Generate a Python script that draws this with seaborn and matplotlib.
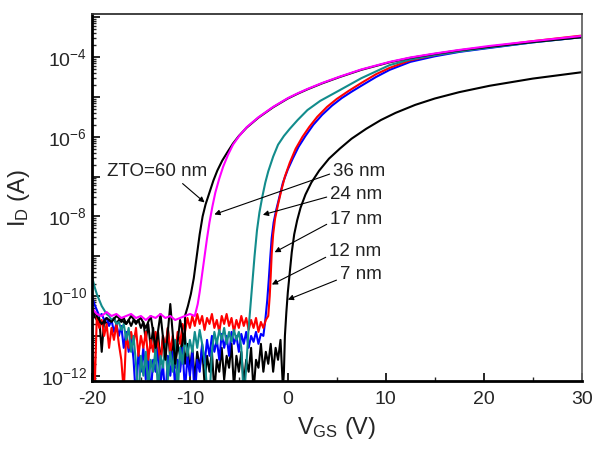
import numpy as np
import pandas as pd
import matplotlib
matplotlib.use('Agg')
import matplotlib.pyplot as plt
from matplotlib.ticker import LogLocator, FuncFormatter, NullFormatter, MultipleLocator
import seaborn as sns

# each device: off-state floor sampled on a regular grid from -20 V, then the turn-on curve
# currents are log10(I_D / A)

# 60 nm (black), floor every 0.5 V
floor_60 = [-10.3, -10.5, -10.7, -10.55, -10.65, -10.5, -10.6, -10.7, -10.5, -10.65,
            -10.55, -10.8, -10.5, -11.3, -10.45, -11.6, -10.2, -11.7, -10.6, -11.2]
on_v_60 = [-10.5, -10.2, -9.9, -9.6, -9.3, -9.0, -8.7, -8.4, -8.0, -7.6, -7.2, -6.7, -6.2,
           -5.6, -5.0, -4.2, -3.0, -1.5, 0.0, 1.0, 2.0, 3.5, 5.3, 7.5, 10.4, 12.5, 15.0,
           17.5, 20.6, 25.0, 30.0]
on_i_60 = [-10.5, -10.25, -9.95, -9.55, -9.0, -8.45, -8.0, -7.7, -7.4, -7.1, -6.85, -6.6,
           -6.4, -6.17, -5.98, -5.77, -5.52, -5.26, -5.04, -4.92, -4.81, -4.66, -4.5, -4.32,
           -4.13, -4.02, -3.92, -3.83, -3.74, -3.62, -3.5]

# 36 nm (magenta), floor every 0.5 V
floor_36 = [-10.3, -10.45, -10.5, -10.4, -10.5, -10.45, -10.55, -10.5, -10.45, -10.55, -10.5,
            -10.6, -10.5, -10.55, -10.45, -10.55, -10.5, -10.6, -10.55, -10.5, -10.45]
on_v_36 = [-9.5, -9.2, -9.0, -8.75, -8.5, -8.25, -8.0, -7.7, -7.4, -7.0, -6.6, -6.1, -5.6,
           -5.0, -4.2, -3.0, -1.5, 0.0, 1.0, 2.0, 3.5, 5.3, 7.5, 10.4, 12.5, 15.0, 17.5,
           20.6, 25.0, 30.0]
on_i_36 = [-10.5, -10.2, -9.9, -9.45, -9.0, -8.55, -8.15, -7.75, -7.4, -7.05, -6.75, -6.45,
           -6.2, -5.99, -5.76, -5.51, -5.25, -5.03, -4.91, -4.8, -4.65, -4.49, -4.31, -4.12,
           -4.01, -3.91, -3.82, -3.72, -3.6, -3.47]

# 24 nm (teal), floor every 0.25 V
floor_24 = [-9.5, -9.75, -9.95, -10.1, -10.25, -10.35, -10.45, -10.5, -10.6, -10.55, -10.7,
            -10.65, -10.85, -10.7, -11.1, -10.8, -11.4, -11.0, -11.7, -12.6, -11.5, -12.0,
            -11.4, -12.3, -11.6, -11.9, -11.3, -12.4, -11.5, -11.8, -11.2, -12.1, -11.4,
            -11.9, -11.1, -12.5, -11.3, -11.7, -11.0, -11.5, -11.1, -11.4, -10.9, -11.3,
            -10.85, -11.2, -11.6, -12.3, -12.6, -11.4, -10.9, -11.2, -10.85, -11.1, -10.8,
            -11.2, -10.9, -11.15, -10.85, -11.1, -10.9, -11.3, -12.6, -11.8]
on_v_24 = [-4.0, -3.8, -3.6, -3.4, -3.15, -2.9, -2.6, -2.3, -2.0, -1.5, -1.0, -0.4, 0.2, 1.0,
           2.0, 3.3, 5.3, 7.5, 10.4, 12.5, 15.0, 17.5, 20.6, 25.0, 30.0]
on_i_24 = [-10.8, -10.2, -9.6, -9.0, -8.35, -7.9, -7.5, -7.15, -6.87, -6.5, -6.2, -5.98,
           -5.8, -5.58, -5.33, -5.1, -4.83, -4.53, -4.2, -4.06, -3.95, -3.86, -3.76, -3.63,
           -3.5]

# 17 nm (red), floor every 0.25 V
floor_17 = [-10.4, -12.6, -10.5, -10.8, -10.6, -11.0, -10.7, -11.3, -10.8, -11.1, -10.7,
            -11.2, -11.6, -12.4, -11.0, -11.3, -10.9, -11.2, -10.8, -11.5, -11.0, -11.3,
            -10.9, -11.6, -11.1, -11.4, -10.9, -11.2, -11.7, -11.0, -11.3, -10.8, -11.4,
            -11.0, -11.5, -10.9, -11.2, -10.7, -10.9, -10.55, -10.8, -10.5, -10.75, -10.45,
            -10.7, -10.5, -10.85, -10.55, -10.7, -10.45, -10.8, -10.6, -10.9, -10.5, -10.7,
            -10.45, -10.75, -10.55, -10.9, -10.6, -10.8, -10.5, -10.75, -10.55, -10.85,
            -10.6, -10.8, -10.55, -10.9, -10.65, -10.8, -10.6]
on_v_17 = [-2.0, -1.85, -1.75, -1.65, -1.5, -1.3, -1.0, -0.7, -0.3, 0.2, 0.8, 1.5, 2.2, 3.0,
           4.0, 5.0, 6.2, 7.5, 9.0, 10.4, 12.5, 15.0, 17.5, 20.6, 25.0, 30.0]
on_i_17 = [-10.5, -10.0, -9.5, -8.95, -8.45, -8.05, -7.7, -7.38, -7.0, -6.65, -6.3, -6.0,
           -5.75, -5.5, -5.25, -5.05, -4.85, -4.65, -4.43, -4.27, -4.08, -3.95, -3.85, -3.74,
           -3.6, -3.46]

# 12 nm (blue), floor every 0.25 V
floor_12 = [-10.0, -10.2, -10.35, -10.5, -10.45, -10.6, -10.55, -10.75, -10.6, -10.9, -10.7,
            -11.0, -10.75, -11.3, -10.9, -11.4, -11.0, -11.6, -12.6, -11.4, -11.9, -11.3,
            -12.1, -11.5, -12.5, -11.6, -11.9, -11.3, -12.2, -11.7, -12.6, -11.5, -12.0,
            -11.4, -12.3, -11.6, -11.9, -11.3, -12.4, -11.5, -12.0, -11.4, -12.6, -11.6,
            -11.9, -11.2, -11.7, -11.1, -11.5, -11.0, -11.4, -11.1, -11.6, -10.95, -11.3,
            -11.0, -11.5, -10.9, -11.2, -11.0, -11.4, -10.95, -11.2, -10.9, -11.3, -11.0,
            -11.15, -10.9, -11.2, -10.95, -11.0]
on_v_12 = [-2.3, -2.1, -1.95, -1.8, -1.65, -1.45, -1.2, -0.9, -0.5, 0.0, 0.5, 1.1, 1.8, 2.6,
           3.5, 4.5, 5.5, 6.5, 7.5, 9.0, 10.4, 12.5, 15.0, 17.5, 20.6, 25.0, 30.0]
on_i_12 = [-10.6, -10.1, -9.6, -9.05, -8.55, -8.15, -7.85, -7.55, -7.15, -6.82, -6.55, -6.25,
           -5.98, -5.7, -5.45, -5.22, -5.03, -4.87, -4.72, -4.5, -4.32, -4.12, -3.98, -3.87,
           -3.77, -3.63, -3.5]

# 7 nm (black), floor every 0.25 V
floor_7 = [-10.3, -10.5, -10.6, -10.55, -11.4, -10.6, -10.7, -10.6, -10.65, -10.55, -10.7,
           -10.6, -10.65, -10.55, -10.7, -10.6, -10.75, -10.6, -10.7, -10.6, -10.8, -10.65,
           -11.1, -10.7, -11.3, -10.8, -11.5, -10.9, -11.7, -11.0, -11.4, -10.8, -11.6,
           -11.1, -11.8, -11.2, -11.5, -11.0, -11.7, -11.2, -11.9, -11.3, -12.1, -11.4,
           -11.8, -11.3, -12.2, -11.5, -11.9, -11.4, -12.4, -11.6, -11.9, -11.3, -12.1,
           -11.5, -11.8, -11.2, -12.3, -11.5, -11.9, -11.4, -12.2, -11.6, -11.9, -11.3,
           -12.4, -11.6, -11.8, -11.2, -11.9, -11.4, -11.7, -11.2, -11.9, -11.3, -11.6,
           -11.1, -12.3]
on_v_7 = [-0.4, -0.3, -0.15, 0.0, 0.2, 0.4, 0.65, 0.95, 1.3, 1.8, 2.4, 3.2, 4.2, 5.3, 6.5,
          8.0, 9.5, 11.0, 13.0, 15.0, 17.5, 20.6, 25.0, 30.0]
on_i_7 = [-11.9, -11.0, -10.4, -9.9, -9.4, -8.9, -8.45, -8.1, -7.78, -7.45, -7.15, -6.85,
          -6.55, -6.3, -6.05, -5.8, -5.58, -5.4, -5.2, -5.04, -4.88, -4.72, -4.54, -4.38]

labels = ['7 nm', '12 nm', '17 nm', '24 nm', '60 nm', '36 nm']
colors = ['#000000', '#0000ff', '#ff0000', '#128c8c', '#000000', '#ff00ff']


def build(name, floor, step, on_v, on_i):
    v_floor = list(-20 + step * np.arange(len(floor)))
    v = v_floor + on_v
    i = floor + on_i
    return pd.DataFrame({'V': v, 'I': np.power(10.0, i), 'ZTO': name})


df = pd.concat([
    build('60 nm', floor_60, 0.5, on_v_60, on_i_60),
    build('36 nm', floor_36, 0.5, on_v_36, on_i_36),
    build('24 nm', floor_24, 0.25, on_v_24, on_i_24),
    build('17 nm', floor_17, 0.25, on_v_17, on_i_17),
    build('12 nm', floor_12, 0.25, on_v_12, on_i_12),
    build('7 nm', floor_7, 0.25, on_v_7, on_i_7),
], ignore_index=True)

sns.set_style('ticks')
plt.rcParams['font.family'] = ['Liberation Sans', 'DejaVu Sans']
plt.rcParams['mathtext.fontset'] = 'custom'
plt.rcParams['mathtext.rm'] = 'Liberation Sans'
plt.rcParams['mathtext.it'] = 'Liberation Sans:italic'
plt.rcParams['mathtext.default'] = 'regular'
plt.rcParams['axes.unicode_minus'] = False

fig = plt.figure(figsize=(5.93, 4.54), dpi=100)
ax = fig.add_axes([0.155, 0.161, 0.826, 0.808])

sns.lineplot(data=df, x='V', y='I', hue='ZTO', hue_order=labels, palette=colors,
             estimator=None, sort=False, units='ZTO', legend=False, linewidth=1.5, ax=ax)

ax.set_yscale('log')
ax.set_xlim(-20, 30)
ax.set_ylim(10 ** -12.13, 10 ** -2.92)

ax.yaxis.set_major_locator(LogLocator(base=10, numticks=30))
ax.yaxis.set_minor_locator(LogLocator(base=10, subs=np.arange(2, 10), numticks=30))
ax.yaxis.set_minor_formatter(NullFormatter())


# label only the even decades that sit inside the axis
def even_decades(v, pos):
    e = int(round(np.log10(v)))
    if e % 2 == 0 and -12 <= e <= -4:
        return '$10^{%d}$' % e
    return ''


ax.yaxis.set_major_formatter(FuncFormatter(even_decades))
ax.xaxis.set_major_locator(MultipleLocator(10))
ax.xaxis.set_minor_locator(MultipleLocator(5))

ax.tick_params(which='major', direction='in', length=6, width=1.4, labelsize=14)
ax.tick_params(which='minor', direction='in', length=3, width=1.0)
ax.tick_params(axis='x', pad=7)

for side in ['left', 'bottom']:
    ax.spines[side].set_linewidth(2)
    ax.spines[side].set_color('black')
ax.spines['top'].set_linewidth(1.3)
ax.spines['top'].set_color('#333333')
ax.spines['right'].set_linewidth(1.3)
ax.spines['right'].set_color('#666666')

ax.set_xlabel(r'V$_{\rm GS}$ (V)', fontsize=17, labelpad=5)
ax.set_ylabel(r'I$_{\rm D}$ (A)', fontsize=17, labelpad=6)

arrow = dict(arrowstyle='-|>', color='black', lw=0.8, mutation_scale=8, shrinkA=0, shrinkB=0)
notes = [
    ('ZTO=60 nm', (-8.5, -7.65), (-18.5, -6.88), (0.72, 0.0)),
    ('36 nm', (-7.5, -7.95), (4.6, -6.88), (-0.03, 0.4)),
    ('24 nm', (-2.55, -7.96), (4.3, -7.46), (-0.03, 0.4)),
    ('17 nm', (-1.35, -8.9), (4.3, -8.09), (-0.03, 0.3)),
    ('12 nm', (-1.63, -9.71), (4.2, -8.89), (-0.05, 0.2)),
    ('7 nm', (0.0, -10.09), (5.3, -9.46), (-0.05, 0.2)),
]
for text, (vx, vy), (tx, ty), rel in notes:
    a = dict(arrow)
    a['relpos'] = rel
    ax.annotate(text, xy=(vx, 10 ** vy), xytext=(tx, 10 ** ty), fontsize=13.5,
                ha='left', va='center', color='#222222', arrowprops=a)

fig.savefig('out.png', dpi=100)
